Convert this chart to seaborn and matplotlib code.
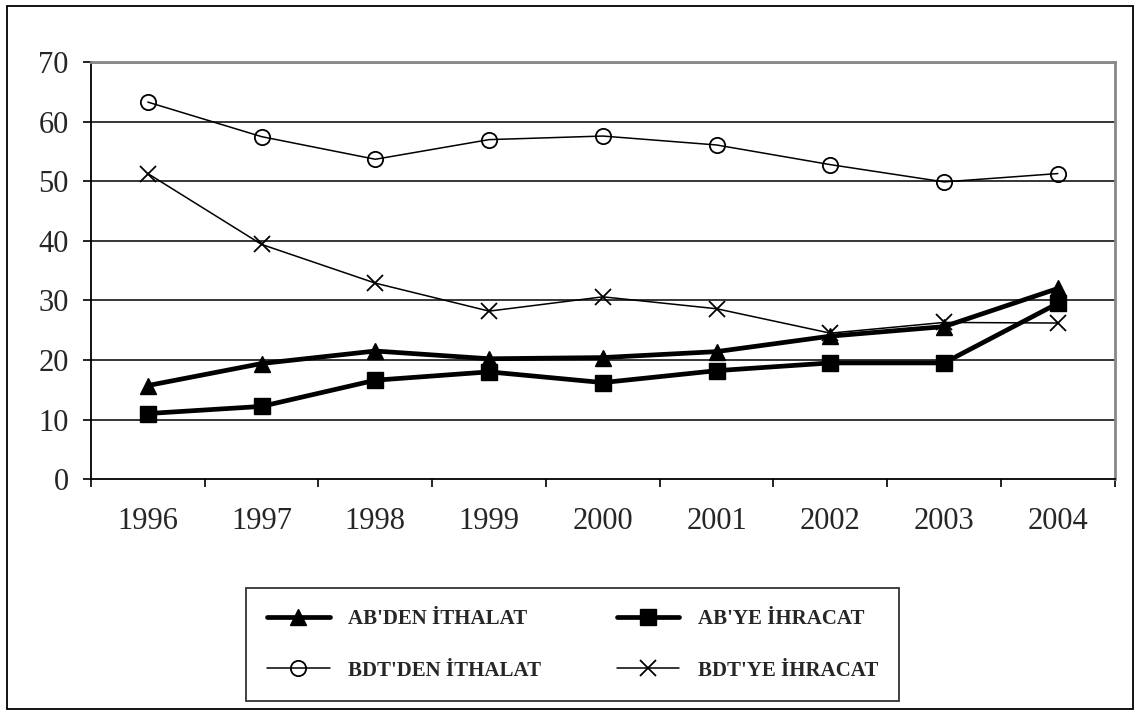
"""AB / BDT dış ticaret payları, 1996-2004."""
import matplotlib.pyplot as plt
import numpy as np
import pandas as pd
import seaborn as sns
from matplotlib.patches import Rectangle

years = ["1996", "1997", "1998", "1999", "2000", "2001", "2002", "2003", "2004"]
ab_ithalat = [15.7, 19.4, 21.5, 20.2, 20.4, 21.4, 24.0, 25.6, 32.0]
ab_ihracat = [11.0, 12.2, 16.6, 18.0, 16.2, 18.2, 19.5, 19.5, 29.5]
bdt_ithalat = [63.3, 57.5, 53.7, 57.0, 57.6, 56.1, 52.8, 49.9, 51.3]
bdt_ihracat = [51.3, 39.4, 32.9, 28.2, 30.6, 28.6, 24.5, 26.3, 26.2]

series = {
    "AB'DEN İTHALAT": ab_ithalat,
    "BDT'DEN İTHALAT": bdt_ithalat,
    "AB'YE İHRACAT": ab_ihracat,
    "BDT'YE İHRACAT": bdt_ihracat,
}
styles = {
    "AB'DEN İTHALAT": dict(marker="^", lw=3.4, ms=12, mfc="black", mew=1),
    "BDT'DEN İTHALAT": dict(marker="o", lw=1.1, ms=11, mfc="none", mew=1.3),
    "AB'YE İHRACAT": dict(marker="s", lw=3.4, ms=12, mfc="black", mew=1),
    "BDT'YE İHRACAT": dict(marker="x", lw=1.1, ms=11, mfc="none", mew=1.3),
}

df = pd.DataFrame(series)
df["pos"] = np.arange(len(years))

sns.set_theme(style="white")
plt.rcParams["font.family"] = ["Liberation Serif", "DejaVu Serif"]

fig = plt.figure(figsize=(11.4, 7.15), dpi=100)
ax = fig.add_axes([0.0798, 0.330, 0.898, 0.583])

for name in series:
    st = styles[name]
    sns.lineplot(data=df, x="pos", y=name, ax=ax, color="black",
                 linewidth=st["lw"], marker=st["marker"], markersize=st["ms"],
                 markerfacecolor=st["mfc"], markeredgecolor="black",
                 markeredgewidth=st["mew"], label=name, legend=False)

ax.set_xlim(-0.5, len(years) - 0.5)
ax.set_ylim(0, 70)
ax.set_yticks(range(0, 71, 10))
ax.set_xticks(np.arange(-0.5, len(years), 1.0))
ax.set_xticklabels([])
ax.set_xticks(np.arange(len(years)), minor=True)
ax.set_xticklabels(years, minor=True)
ax.tick_params(axis="x", which="minor", length=0, pad=20, labelsize=22)
ax.tick_params(axis="x", which="major", length=6, width=1.2, color="black",
               direction="out", bottom=True)
ax.tick_params(axis="y", length=6, width=1.2, color="black", direction="out",
               left=True, labelsize=22, pad=10)
ax.set_xlabel("")
ax.set_ylabel("")

for y in range(10, 70, 10):
    ax.axhline(y, color="black", lw=1.1, zorder=0)
ax.axhline(70, color="#888888", lw=2, zorder=0)

ax.spines["left"].set_color("black")
ax.spines["bottom"].set_color("black")
ax.spines["left"].set_linewidth(1.3)
ax.spines["bottom"].set_linewidth(1.3)
ax.spines["top"].set_color("#888888")
ax.spines["right"].set_color("#888888")
ax.spines["top"].set_linewidth(2)
ax.spines["right"].set_linewidth(2)

handles, labels = ax.get_legend_handles_labels()
leg = fig.legend(handles, labels, ncol=2, loc="center",
                 bbox_to_anchor=(0.207, 0.018, 0.591, 0.16), mode="expand",
                 frameon=True, fancybox=False, edgecolor="black",
                 handlelength=3, handletextpad=0.9, borderpad=1.0,
                 labelspacing=1.5, columnspacing=2,
                 prop={"family": "Liberation Serif", "weight": "bold", "size": 15})
leg.get_frame().set_linewidth(1.3)

fig.patches.append(Rectangle((0.006, 0.008), 0.988, 0.984, transform=fig.transFigure,
                             fill=False, edgecolor="black", linewidth=1.3))

fig.savefig("out.png", dpi=100)
